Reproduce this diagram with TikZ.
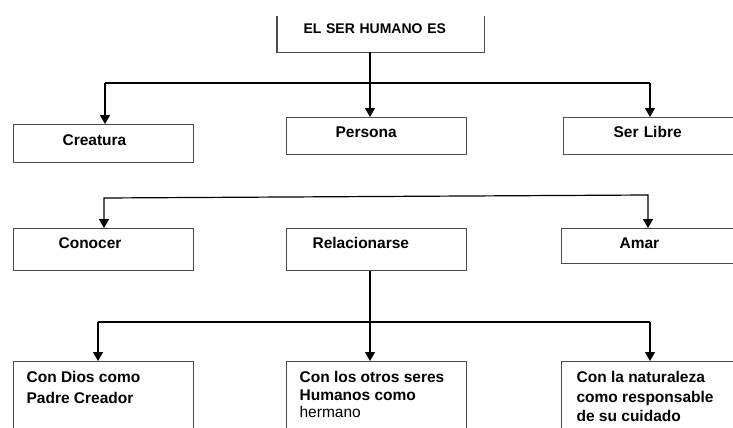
\documentclass[tikz,border=0pt]{standalone}
\usepackage{fontspec}
\setmainfont{Liberation Sans}
\usetikzlibrary{arrows.meta}

\begin{document}
\begin{tikzpicture}[
      x=1pt, y=-1pt,
      box/.style={draw=black!70, line width=1.2pt, anchor=north west,
        align=left, inner ysep=0pt, font=\fontsize{15.5}{19}\selectfont\bfseries},
      link/.style={line width=1.2pt},
      arr/.style={link, -{Triangle[length=9pt, width=10pt]}},
      arrs/.style={link, {Triangle[length=9pt, width=10pt]}-{Triangle[length=9pt, width=10pt]}},
    ]
    \clip (0,0) rectangle (733,428);

    % title box, open at the top
    \node[box, draw=none, font=\fontsize{14}{17}\selectfont\bfseries,
      inner xsep=26pt, text width=154pt, text height=17pt, text depth=18pt]
      (ser) at (277,16) {EL SER HUMANO ES};
    \draw[draw=black!70, line width=1.2pt]
      (ser.north west) -- (ser.south west) -- (ser.south east) -- (ser.north east);

    % first row
    \node[box, inner xsep=49pt, text width=82pt, text height=21pt, text depth=17pt]
      (crea) at (13,124) {Creatura};
    \node[box, inner xsep=49pt, text width=82pt, text height=20pt, text depth=17pt]
      (pers) at (286,117) {Persona};
    \node[box, inner xsep=50pt, text width=100pt, text height=20pt, text depth=17pt]
      (libre) at (563,117) {Ser Libre};

    % second row
    \node[box, inner xsep=45pt, text width=90pt, text height=20pt, text depth=22pt]
      (cono) at (13,228) {Conocer};
    \node[box, inner xsep=26pt, text width=128pt, text height=20pt, text depth=22pt]
      (rel) at (286,228) {Relacionarse};
    \node[box, inner xsep=58pt, text width=84pt, text height=20pt, text depth=15pt]
      (amar) at (561,228) {Amar};

    % third row
    \node[box, inner xsep=13pt, inner ysep=10pt] (dios) at (13,361)
      {\parbox[t][80pt][t]{154pt}{\baselineskip=21pt Con Dios como\\Padre Creador}};
    \node[box, inner xsep=13pt, inner ysep=10pt] (otros) at (286,361)
      {\parbox[t][80pt][t]{154pt}{\baselineskip=17.5pt Con los otros seres\\Humanos como\\{\mdseries hermano}}};
    \node[box, inner xsep=15pt, inner ysep=10pt] (natu) at (561,361)
      {\parbox[t][80pt][t]{200pt}{\baselineskip=19.5pt Con la naturaleza\\como responsable\\de su cuidado}};

    % connectors
    \coordinate (hub) at (370,83);
    \coordinate (b1) at (105,83);
    \coordinate (b2) at (650,83);
    \draw[arr] (ser.south -| hub) -- (hub |- pers.north);
    \draw[link] (b1) -- (b2);
    \draw[arr] (b1) -- (b1 |- crea.north);
    \draw[arr] (b2) -- (b2 |- libre.north);

    \coordinate (c1) at (104,198);
    \coordinate (c2) at (648,195);
    \draw[arrs] (c1 |- cono.north) -- (c1) -- (c2) -- (c2 |- amar.north);

    \coordinate (d1) at (98,322);
    \coordinate (d2) at (370,322);
    \coordinate (d3) at (650,322);
    \draw[arr] (rel.south -| d2) -- (d2 |- otros.north);
    \draw[link] (d1) -- (d3);
    \draw[arr] (d1) -- (d1 |- dios.north);
    \draw[arr] (d3) -- (d3 |- natu.north);
\end{tikzpicture}
\end{document}
